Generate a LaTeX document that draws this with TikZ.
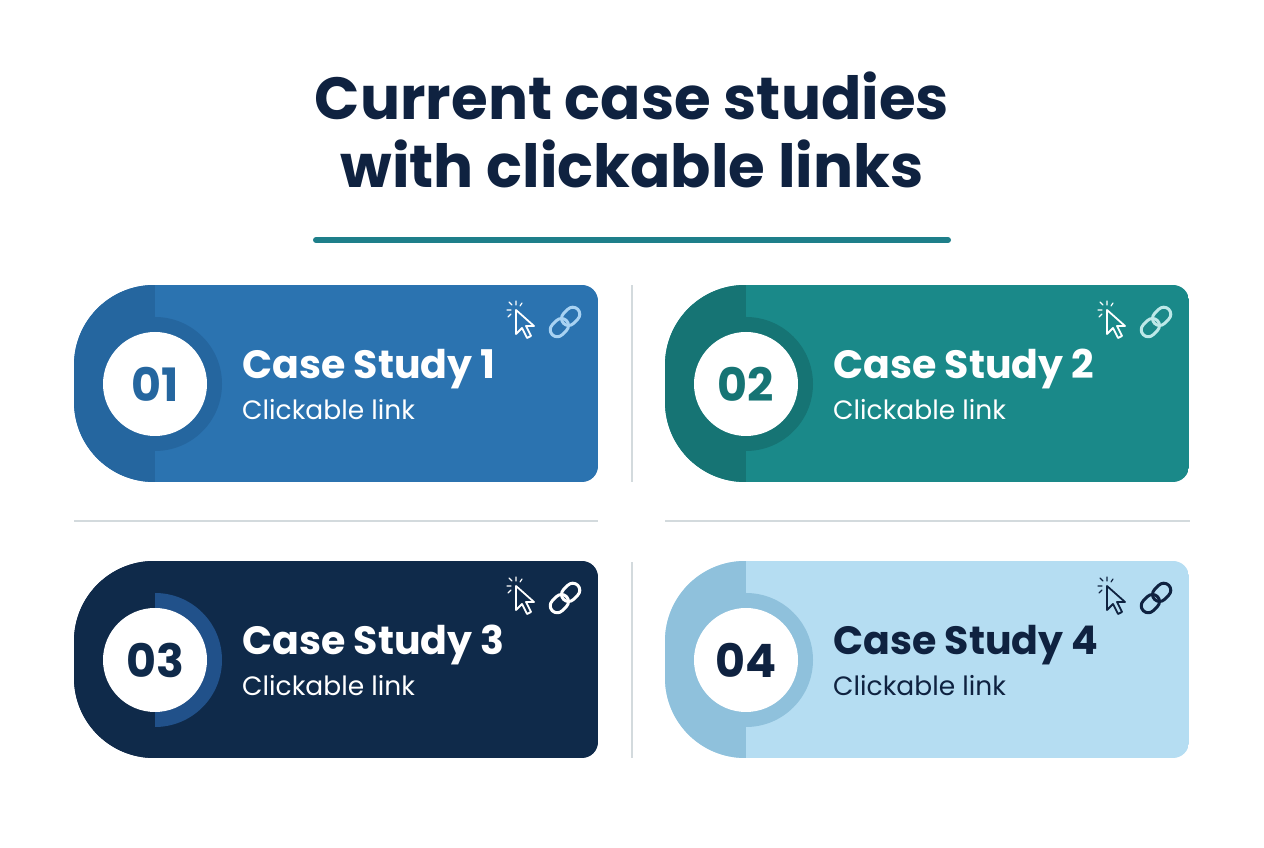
\documentclass[tikz,border=0pt]{standalone}
\usepackage{fontspec}
\setmainfont{Poppins}
\usepackage{tikz}
\usetikzlibrary{calc}
\definecolor{titleink}{HTML}{0F2240}
\definecolor{tealline}{HTML}{1E7F8A}
\definecolor{sepgray}{HTML}{D3DADD}
\definecolor{blueA}{HTML}{2B73B0}\definecolor{blueAs}{HTML}{25669F}
\definecolor{tealB}{HTML}{1A8989}\definecolor{tealBs}{HTML}{167474}
\definecolor{navyC}{HTML}{0F2A4A}\definecolor{navyCr}{HTML}{21518A}
\definecolor{skyD}{HTML}{B5DDF2}\definecolor{skyDs}{HTML}{8FC1DC}
\definecolor{linkA}{HTML}{A8D2F2}\definecolor{linkB}{HTML}{BDE8E8}
\tikzset{
  cardtitle/.style={anchor=base west,font=\bfseries\fontsize{39.5}{42}\selectfont,inner sep=0pt},
  cardsub/.style={anchor=base west,font=\fontsize{26.5}{28}\selectfont,inner sep=0pt},
  cardnum/.style={font=\bfseries\fontsize{46}{48}\selectfont,inner sep=0pt},
  sepline/.style={sepgray,line width=1.5pt}
}
\newcommand\cardicons[4]{% x, y (top right of icons), cursor colour, link colour
  \begin{scope}[shift={(#1,#2)},line width=1.8pt,line cap=round,line join=round]
    % cursor
    \draw[#3] (-72,-8) -- (-72,-32) -- (-66,-26) -- (-61,-36) -- (-57,-34) -- (-62,-24) -- (-54,-24) -- cycle;
    \draw[#3,line width=1.2pt] (-76,-3) -- (-79,0) (-77,-8) -- (-81,-8) (-72,-3) -- (-72,1) (-68,-4) -- (-66,-1) (-77,-12) -- (-80,-15);
    % link
    \draw[#4,line width=3pt,rounded corners=7pt,rotate around={45:(-23,-20)}] (-41,-27) rectangle (-21,-13);
    \draw[#4,line width=3pt,rounded corners=7pt,rotate around={45:(-23,-20)}] (-25,-27) rectangle (-5,-13);
  \end{scope}}
\begin{document}
\begin{tikzpicture}[x=1pt,y=1pt]
  \useasboundingbox[fill=white] (0,0) rectangle (1264,848);
  % title
  \node[titleink,font=\bfseries\fontsize{59.5}{68}\selectfont,align=center,anchor=base] (title) at (632,660) {Current case studies\\with clickable links};
  \draw[tealline,line width=6pt,line cap=round] (316,608) -- (948,608);
  % separators
  \draw[sepline] (632,366) -- (632,563);
  \draw[sepline] (632,90) -- (632,286);
  \draw[sepline] (74,327) -- (598,327);
  \draw[sepline] (665,327) -- (1190,327);
  % cards
  \foreach \x/\y/\main/\strip/\ring/\numink/\ink/\icon/\link [count=\i] in
    {74/366/blueA/blueAs/blueAs/blueAs/white/white/linkA,
     665/366/tealB/tealBs/tealBs/tealBs/white/white/linkB,
     74/90/navyC/navyC/navyCr/navyC/white/white/white,
     665/90/skyD/skyDs/skyDs/titleink/titleink/titleink/titleink}{
    \begin{scope}
      \path[clip] (\x+80,\y) -- (\x+508,\y) arc[start angle=-90,end angle=0,radius=16]
        -- (\x+524,\y+181) arc[start angle=0,end angle=90,radius=16]
        -- (\x+80,\y+197) arc[start angle=90,end angle=180,radius=80]
        -- (\x,\y+80) arc[start angle=180,end angle=270,radius=80] -- cycle;
      \fill[\main] (\x,\y) rectangle (\x+524,\y+197);
      \fill[\ring] (\x+81,\y+98) circle (67);
      \fill[\strip] (\x,\y) rectangle (\x+81,\y+197);
    \end{scope}
    \node[circle,fill=white,minimum size=104pt,inner sep=0pt] (num\i) at (\x+81,\y+98) {};
    \node[cardnum,text=\numink] at (num\i) {0\i};
    \node[cardtitle,text=\ink] (head\i) at (\x+168,\y+103) {Case Study \i};
    \node[cardsub,text=\ink] (sub\i) at (\x+168,\y+62) {Clickable link};
    \cardicons{\x+514}{\y+180}{\icon}{\link}
  }
\end{tikzpicture}
\end{document}
